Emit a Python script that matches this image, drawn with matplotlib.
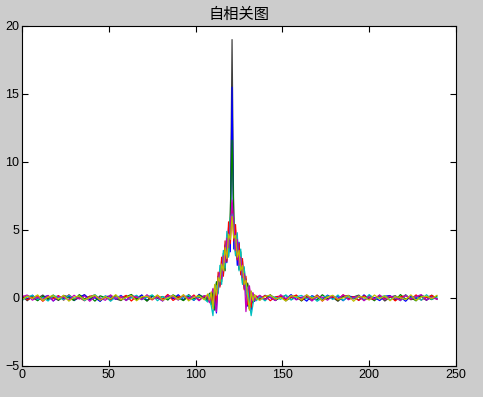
import matplotlib
matplotlib.use("Agg")
import matplotlib.pyplot as plt

# lag index (0..239), sparse in the flat tails, every lag near the peak
lags = list(range(0, 106, 3)) + list(range(107, 136)) + list(range(137, 240, 3))

# one autocorrelation curve per colour
acf_b = [0.12, -0.08, 0.21, -0.15, 0.05, 0.18, -0.22, 0.09, -0.04, 0.16, -0.19, 0.07, 0.23, -0.11, 0.02, -0.25, 0.14, 0.06,
         -0.09, 0.19, -0.13, 0.08, -0.02, 0.22, -0.17, 0.11, 0.04, -0.21, 0.15, -0.06, 0.24, -0.12, 0.09, -0.18, 0.27, -0.05,
         0.15, -0.20, 0.35, -0.45, 0.80, -1.10, 1.60, 0.90, 2.80, 1.70, 3.90, 2.60, 5.20, 3.40, 15.50, 3.60, 5.00, 2.40, 4.10,
         1.80, 2.70, 0.70, 1.40, -0.60, 0.50, -0.90, 0.30, -0.25, 0.10,
         -0.14, 0.20, 0.03, -0.18, 0.12, -0.07, 0.25, -0.10, 0.06, -0.23, 0.17, 0.01, -0.13, 0.21, -0.05, 0.10, -0.20, 0.14,
         0.08, -0.16, 0.23, -0.09, 0.04, -0.19, 0.13, 0.18, -0.11, 0.07, -0.24, 0.15, -0.03, 0.20, -0.14, 0.09, -0.06]
acf_g = [-0.10, 0.17, 0.04, -0.20, 0.13, -0.06, 0.22, -0.14, 0.08, 0.01, -0.18, 0.25, -0.07, 0.12, -0.23, 0.16, 0.03, -0.12,
         0.20, -0.16, 0.09, 0.26, -0.08, 0.05, -0.21, 0.18, -0.03, 0.11, -0.15, 0.23, 0.02, -0.19, 0.14, -0.09, 0.21, 0.06,
         -0.25, 0.30, -0.50, 0.60, -0.70, 1.20, 0.40, 2.10, 1.20, 3.30, 2.00, 4.60, 3.10, 6.30, 11.60, 6.10, 3.20, 4.50, 2.10,
         3.40, 1.10, 2.20, 0.50, 1.00, -0.80, 0.40, -0.35, 0.20, -0.10,
         0.15, -0.09, 0.22, -0.17, 0.05, 0.19, -0.12, 0.10, -0.22, 0.13, 0.02, -0.15, 0.24, -0.06, 0.11, -0.19, 0.17, -0.04,
         0.08, 0.21, -0.14, 0.06, -0.20, 0.16, -0.02, 0.12, -0.17, 0.25, -0.08, 0.03, -0.21, 0.18, 0.07, -0.12, 0.14]
acf_r = [0.20, -0.13, 0.06, 0.15, -0.24, 0.10, -0.03, 0.18, -0.16, 0.24, -0.07, 0.02, -0.20, 0.13, 0.21, -0.10, 0.05, -0.17,
         0.11, 0.00, 0.19, -0.22, 0.14, -0.05, 0.09, -0.14, 0.20, -0.08, 0.26, -0.18, 0.07, 0.13, -0.10, 0.22, -0.15, 0.10,
         0.20, -0.30, 0.40, -0.60, 0.90, -0.40, 1.90, 0.80, 3.00, 1.60, 4.20, 2.70, 5.60, 4.00, 7.00, 4.20, 5.40, 2.80, 4.00,
         1.70, 2.90, 0.60, 1.60, -0.50, 0.70, -0.70, 0.30, -0.20, 0.15,
         -0.06, 0.18, -0.20, 0.09, 0.14, -0.13, 0.03, 0.22, -0.16, 0.07, -0.09, 0.20, -0.23, 0.12, 0.05, -0.14, 0.24, -0.03,
         0.10, -0.18, 0.16, 0.01, -0.12, 0.21, -0.07, 0.13, -0.21, 0.08, 0.17, -0.10, 0.23, -0.15, 0.04, 0.19, -0.08]
acf_c = [-0.18, 0.07, 0.19, -0.11, 0.03, -0.22, 0.16, 0.09, -0.14, 0.21, -0.05, 0.12, -0.19, 0.04, 0.25, -0.09, 0.15, -0.24,
         0.08, 0.13, -0.17, 0.02, 0.20, -0.12, 0.06, 0.23, -0.20, 0.10, -0.04, 0.17, -0.13, 0.05, 0.21, -0.16, 0.11, -0.07,
         -0.30, 0.25, -0.55, -1.30, 0.50, 0.90, 0.30, 2.40, 1.00, 3.50, 2.20, 4.90, 3.00, 5.90, 6.20, 5.70, 3.10, 4.80, 2.00,
         3.60, 1.00, 2.30, 0.20, 0.80, -0.40, -1.30, -0.50, 0.20, -0.20,
         0.11, -0.21, 0.16, 0.04, -0.10, 0.23, -0.15, 0.08, 0.19, -0.06, 0.13, -0.24, 0.02, 0.17, -0.11, 0.22, -0.18, 0.09,
         -0.02, 0.14, -0.16, 0.25, -0.07, 0.05, 0.18, -0.13, 0.10, -0.20, 0.21, -0.04, 0.12, -0.17, 0.24, -0.09, 0.03]
acf_m = [0.09, 0.22, -0.16, 0.05, -0.10, 0.19, -0.21, 0.13, 0.03, -0.14, 0.20, -0.08, 0.16, -0.24, 0.10, 0.01, -0.17, 0.23,
         -0.05, 0.12, -0.19, 0.15, 0.07, -0.12, 0.24, -0.09, 0.04, -0.22, 0.18, 0.10, -0.15, 0.21, -0.03, 0.14, -0.20, 0.17,
         0.10, -0.35, 0.20, 0.70, -0.20, -1.00, 1.30, 1.90, 1.40, 3.10, 2.60, 4.40, 3.70, 5.30, 7.20, 5.50, 3.50, 4.30, 2.40,
         3.00, 1.50, 1.80, -1.00, 0.60, 0.90, -0.30, 0.40, -0.15, 0.05,
         0.20, -0.11, 0.07, -0.19, 0.24, -0.04, 0.15, -0.14, 0.02, 0.21, -0.22, 0.11, 0.06, -0.16, 0.18, -0.08, 0.23, -0.13,
         0.04, 0.16, -0.20, 0.09, -0.05, 0.22, -0.12, 0.14, 0.01, -0.18, 0.19, -0.07, 0.10, 0.25, -0.15, 0.06, -0.10]
acf_y = [-0.12, 0.14, -0.04, 0.23, -0.18, 0.08, 0.17, -0.09, 0.20, -0.23, 0.06, 0.15, -0.13, 0.03, 0.21, -0.17, 0.11, -0.06,
         0.24, -0.14, 0.05, 0.18, -0.20, 0.09, 0.13, -0.08, 0.22, -0.16, 0.02, 0.19, -0.11, 0.25, -0.21, 0.07, 0.16, -0.13,
         0.30, -0.15, 0.45, -0.80, 1.00, 0.20, 1.50, 1.20, 2.50, 2.00, 3.70, 2.90, 4.70, 4.30, 6.00, 4.40, 4.60, 3.00, 3.50,
         2.00, 2.40, 1.00, 1.30, 0.10, -0.90, 0.50, -0.20, 0.25, -0.05,
         -0.17, 0.12, 0.21, -0.08, 0.04, -0.22, 0.17, 0.09, -0.13, 0.24, -0.03, 0.14, -0.19, 0.07, 0.20, -0.11, 0.01, 0.18,
         -0.24, 0.12, 0.05, -0.15, 0.22, -0.06, 0.16, -0.20, 0.10, 0.03, -0.12, 0.23, -0.17, 0.08, 0.13, -0.04, 0.19]
acf_k = [0.16, -0.20, 0.11, -0.03, 0.22, -0.12, 0.05, -0.18, 0.19, 0.08, -0.15, 0.02, 0.24, -0.10, 0.13, -0.21, 0.07, 0.17,
         -0.06, -0.19, 0.14, 0.04, -0.11, 0.21, -0.23, 0.12, 0.06, -0.14, 0.20, -0.02, 0.09, -0.17, 0.25, -0.08, 0.03, 0.15,
         -0.10, 0.35, -0.25, 0.55, -0.90, 1.10, 0.60, 2.00, 1.50, 2.90, 2.30, 4.00, 3.30, 5.00, 19.00, 5.10, 3.40, 3.90, 2.20,
         2.80, 1.30, 1.90, 0.40, 1.10, -0.80, 0.50, -0.30, 0.15, 0.00,
         0.10, -0.16, 0.23, -0.05, 0.13, -0.21, 0.06, 0.18, -0.09, 0.02, -0.19, 0.22, -0.12, 0.15, 0.04, -0.24, 0.11, 0.19,
         -0.07, 0.08, -0.15, 0.20, -0.02, 0.14, -0.22, 0.06, 0.17, -0.10, 0.24, -0.13, 0.01, 0.12, -0.18, 0.21, -0.06]

# drawing order: the dark curve sits underneath the coloured ones
series = [acf_k, acf_b, acf_g, acf_r, acf_c, acf_m, acf_y]
colors = ["#404040", "#0000ff", "#008000", "#ff0000", "#00bfbf", "#bf00bf", "#bfbf00"]

plt.rcParams['font.family'] = ['Liberation Sans', 'DejaVu Sans']

fig = plt.figure(figsize=(4.83, 3.97), dpi=100, facecolor="#cccccc")
ax = fig.add_axes([22 / 483, 31 / 397, 434 / 483, 340 / 397])
ax.set_facecolor("white")

for vals, col in zip(series, colors):
    assert len(vals) == len(lags)
    ax.plot(lags, vals, color=col, linewidth=0.9)

ax.set_xlim(0, 250)
ax.set_ylim(-5, 20)
ax.set_xticks([0, 50, 100, 150, 200, 250])
ax.set_yticks([-5, 0, 5, 10, 15, 20])
ax.tick_params(direction="in", length=4, width=0.8, top=True, right=True,
               labelsize=9, pad=2, colors="black")
for sp in ax.spines.values():
    sp.set_linewidth(0.8)

ax.set_title("自相关图", family=['Noto Sans CJK SC', 'DejaVu Sans'], fontsize=11, pad=5)

fig.savefig("out.png", dpi=100, facecolor=fig.get_facecolor())
